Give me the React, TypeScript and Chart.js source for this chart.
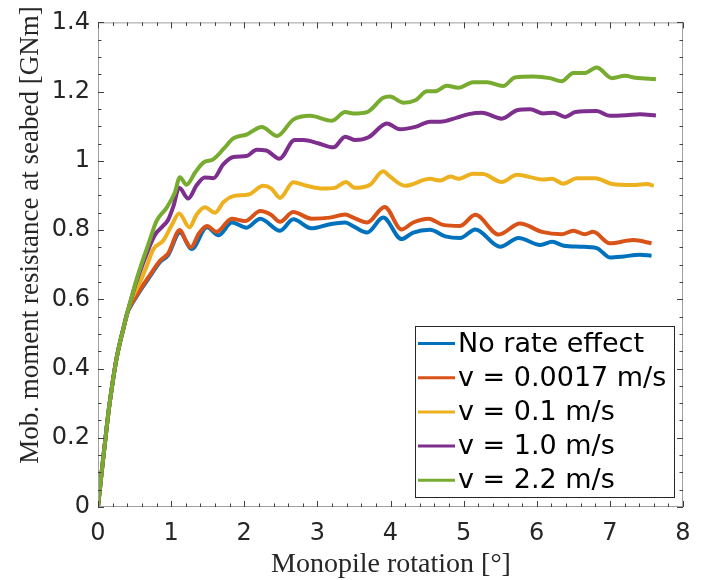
import React, { useEffect, useRef } from "react";
import { Chart, registerables } from "chart.js";

Chart.register(...registerables);

// ---- axis ticks ----
const xTicks = [0, 1, 2, 3, 4, 5, 6, 7, 8];
const yTicks = [0, 0.2, 0.4, 0.6, 0.8, 1, 1.2, 1.4];
const yTickLabels = ["0", "0.2", "0.4", "0.6", "0.8", "1", "1.2", "1.4"];

// ---- series labels ----
const seriesLabels = [
  "No rate effect",
  "v = 0.0017 m/s",
  "v = 0.1 m/s",
  "v = 1.0 m/s",
  "v = 2.2 m/s",
];
const seriesColors = ["#0072BD", "#D95319", "#EDB120", "#7E2F8E", "#77AC30"];

// ---- data (rotation [deg], moment [GNm]) ----
const noRateX = [0, 0.05, 0.1, 0.15, 0.2, 0.25, 0.3, 0.35, 0.4, 0.46, 0.53, 0.6, 0.69, 0.85, 0.96, 1.12, 1.28, 1.49, 1.65, 1.83, 2.03, 2.22, 2.49, 2.67, 2.92, 3.17, 3.38, 3.5, 3.68, 3.9, 4.15, 4.31, 4.54, 4.75, 4.95, 5.16, 5.5, 5.75, 6.05, 6.21, 6.37, 6.59, 6.82, 7.0, 7.19, 7.41, 7.57];
const noRateY = [0, 0.1, 0.195, 0.285, 0.36, 0.425, 0.475, 0.518, 0.56, 0.585, 0.609, 0.632, 0.66, 0.708, 0.728, 0.793, 0.745, 0.808, 0.785, 0.822, 0.807, 0.833, 0.798, 0.831, 0.805, 0.817, 0.822, 0.81, 0.793, 0.836, 0.774, 0.793, 0.801, 0.782, 0.777, 0.802, 0.752, 0.777, 0.757, 0.766, 0.755, 0.752, 0.748, 0.721, 0.724, 0.729, 0.726];

const v0017X = [0, 0.05, 0.1, 0.15, 0.2, 0.25, 0.3, 0.35, 0.4, 0.46, 0.53, 0.6, 0.69, 0.85, 0.96, 1.12, 1.2, 1.27, 1.38, 1.49, 1.62, 1.83, 2.01, 2.22, 2.36, 2.49, 2.67, 2.92, 3.17, 3.38, 3.5, 3.68, 3.92, 4.15, 4.31, 4.52, 4.72, 4.95, 5.16, 5.48, 5.77, 6.07, 6.34, 6.5, 6.66, 6.77, 7.0, 7.32, 7.57];
const v0017Y = [0, 0.1, 0.195, 0.285, 0.36, 0.425, 0.475, 0.518, 0.56, 0.588, 0.612, 0.636, 0.664, 0.712, 0.733, 0.8, 0.77, 0.75, 0.79, 0.812, 0.795, 0.833, 0.826, 0.855, 0.845, 0.824, 0.852, 0.833, 0.836, 0.845, 0.835, 0.822, 0.867, 0.802, 0.822, 0.833, 0.815, 0.812, 0.844, 0.787, 0.819, 0.795, 0.788, 0.798, 0.788, 0.795, 0.762, 0.771, 0.762];

const v01X = [0, 0.05, 0.1, 0.15, 0.2, 0.25, 0.3, 0.35, 0.4, 0.45, 0.52, 0.6, 0.67, 0.757, 0.89, 1.01, 1.11, 1.25, 1.35, 1.46, 1.6, 1.72, 1.85, 2.06, 2.26, 2.37, 2.49, 2.67, 2.85, 3.08, 3.24, 3.39, 3.51, 3.72, 3.9, 3.99, 4.2, 4.54, 4.68, 4.82, 4.93, 5.13, 5.27, 5.52, 5.73, 5.91, 6.07, 6.21, 6.36, 6.55, 6.8, 7.03, 7.32, 7.51, 7.6];
const v01Y = [0, 0.1, 0.195, 0.285, 0.36, 0.425, 0.475, 0.518, 0.56, 0.596, 0.627, 0.662, 0.698, 0.745, 0.769, 0.815, 0.848, 0.808, 0.845, 0.866, 0.85, 0.882, 0.898, 0.903, 0.928, 0.92, 0.893, 0.938, 0.928, 0.92, 0.922, 0.939, 0.922, 0.931, 0.97, 0.955, 0.928, 0.948, 0.943, 0.955, 0.948, 0.963, 0.962, 0.939, 0.96, 0.953, 0.946, 0.948, 0.934, 0.95, 0.95, 0.933, 0.93, 0.933, 0.928];

const v10X = [0, 0.05, 0.1, 0.15, 0.2, 0.25, 0.3, 0.35, 0.4, 0.45, 0.52, 0.6, 0.7, 0.78, 0.88, 0.96, 1.03, 1.11, 1.235, 1.35, 1.46, 1.58, 1.71, 1.85, 2.03, 2.17, 2.3, 2.48, 2.69, 2.81, 3.01, 3.22, 3.38, 3.52, 3.7, 3.95, 4.13, 4.34, 4.54, 4.68, 4.91, 5.07, 5.25, 5.52, 5.73, 5.91, 6.09, 6.23, 6.39, 6.53, 6.82, 7.0, 7.23, 7.41, 7.63];
const v10Y = [0, 0.1, 0.195, 0.285, 0.36, 0.425, 0.475, 0.518, 0.56, 0.598, 0.648, 0.695, 0.75, 0.787, 0.81, 0.83, 0.868, 0.922, 0.891, 0.93, 0.952, 0.95, 0.989, 1.011, 1.014, 1.032, 1.03, 1.006, 1.06, 1.06, 1.051, 1.039, 1.07, 1.06, 1.068, 1.108, 1.091, 1.098, 1.113, 1.113, 1.125, 1.135, 1.139, 1.122, 1.146, 1.149, 1.137, 1.139, 1.127, 1.141, 1.144, 1.13, 1.132, 1.135, 1.131];

const v22X = [0, 0.05, 0.1, 0.15, 0.2, 0.25, 0.3, 0.35, 0.4, 0.45, 0.52, 0.6, 0.69, 0.8, 0.94, 1.05, 1.12, 1.21, 1.33, 1.44, 1.58, 1.72, 1.85, 2.03, 2.24, 2.45, 2.67, 2.9, 3.2, 3.38, 3.49, 3.68, 3.9, 3.99, 4.18, 4.34, 4.5, 4.61, 4.77, 4.93, 5.13, 5.32, 5.54, 5.7, 5.96, 6.18, 6.34, 6.5, 6.66, 6.82, 7.03, 7.21, 7.35, 7.63];
const v22Y = [0, 0.1, 0.195, 0.285, 0.36, 0.425, 0.475, 0.518, 0.56, 0.599, 0.652, 0.705, 0.76, 0.826, 0.865, 0.908, 0.953, 0.931, 0.967, 0.995, 1.005, 1.035, 1.065, 1.076, 1.098, 1.072, 1.119, 1.13, 1.116, 1.141, 1.137, 1.141, 1.182, 1.186, 1.168, 1.175, 1.201, 1.201, 1.217, 1.211, 1.227, 1.227, 1.216, 1.241, 1.244, 1.239, 1.23, 1.254, 1.254, 1.27, 1.239, 1.246, 1.24, 1.236];

const seriesX = [noRateX, v0017X, v01X, v10X, v22X];
const seriesY = [noRateY, v0017Y, v01Y, v10Y, v22Y];

const xTitle = "Monopile rotation [°]";
const yTitle = "Mob. moment resistance at seabed [GNm]";

const toPoints = (xs: number[], ys: number[]) => {
  const n = Math.min(xs.length, ys.length);
  const pts: { x: number; y: number }[] = [];
  for (let i = 0; i < n; i++) pts.push({ x: xs[i], y: ys[i] });
  return pts;
};

const decorPlugin = {
  id: "decor",
  afterDatasetsDraw(chart: any) {
    const { ctx, chartArea } = chart;
    const { left, right, top, bottom } = chartArea;
    const xs = chart.scales.x;
    const ys = chart.scales.y;
    ctx.save();
    // frame
    ctx.strokeStyle = "#a0a0a0";
    ctx.lineWidth = 1;
    ctx.strokeRect(left + 0.5, top + 0.5, right - left - 1, bottom - top - 1);
    // ticks
    ctx.strokeStyle = "#404040";
    ctx.beginPath();
    for (let i = 0; i <= 40; i++) {
      const v = i / 5;
      const p = Math.round(xs.getPixelForValue(v)) + 0.5;
      const len = i % 5 === 0 ? 6 : 3.5;
      ctx.moveTo(p, bottom);
      ctx.lineTo(p, bottom - len);
      ctx.moveTo(p, top);
      ctx.lineTo(p, top + len);
    }
    for (let i = 0; i <= 28; i++) {
      const v = i * 0.05;
      const p = Math.round(ys.getPixelForValue(v)) + 0.5;
      const len = i % 4 === 0 ? 6 : 3.5;
      ctx.moveTo(left, p);
      ctx.lineTo(left + len, p);
      ctx.moveTo(right, p);
      ctx.lineTo(right - len, p);
    }
    ctx.stroke();

    // legend
    const lx = 415.5, ly = 326.5, lw = 259, lh = 171;
    ctx.fillStyle = "#ffffff";
    ctx.fillRect(lx, ly, lw, lh);
    ctx.strokeStyle = "#262626";
    ctx.lineWidth = 1;
    ctx.strokeRect(lx, ly, lw, lh);
    ctx.font = "27px 'DejaVu Sans'";
    ctx.textBaseline = "middle";
    ctx.textAlign = "left";
    for (let i = 0; i < seriesLabels.length; i++) {
      const cy = 343.5 + i * 34.2;
      ctx.strokeStyle = seriesColors[i];
      ctx.lineWidth = 3;
      ctx.beginPath();
      ctx.moveTo(418, cy);
      ctx.lineTo(455, cy);
      ctx.stroke();
      ctx.fillStyle = "#000000";
      ctx.fillText(seriesLabels[i], 458, cy + 1);
    }
    ctx.restore();
  },
  afterDraw(chart: any) {
    const { ctx } = chart;
    ctx.save();
    ctx.fillStyle = "#262626";
    ctx.textAlign = "center";
    ctx.textBaseline = "alphabetic";
    ctx.font = "28px 'Liberation Serif'";
    ctx.fillText(xTitle, 391, 572);
    ctx.translate(38, 235);
    ctx.rotate(-Math.PI / 2);
    ctx.font = "27px 'Liberation Serif'";
    ctx.fillText(yTitle, 0, 0);
    ctx.restore();
  },
};

export default function App() {
  const ref = useRef<HTMLCanvasElement | null>(null);
  useEffect(() => {
    if (!ref.current) return;
    const datasets = seriesLabels.map((label, i) => ({
      label,
      data: toPoints(seriesX[i], seriesY[i]),
      borderColor: seriesColors[i],
      backgroundColor: seriesColors[i],
      borderWidth: 4,
      pointRadius: 0,
      fill: false,
      cubicInterpolationMode: "monotone" as const,
      order: seriesLabels.length - i,
    }));
    const chart = new Chart(ref.current, {
      type: "line",
      data: { datasets },
      options: {
        responsive: false,
        devicePixelRatio: 1,
        animation: false,
        parsing: false,
        layout: { padding: { top: 18, right: 27, left: 0, bottom: 0 } },
        plugins: { legend: { display: false }, tooltip: { enabled: false } },
        scales: {
          x: {
            type: "linear",
            min: 0,
            max: 8,
            grid: { display: false, drawTicks: false },
            border: { display: false },
            afterBuildTicks: (s: any) => {
              s.ticks = xTicks.map((v) => ({ value: v }));
            },
            afterFit: (s: any) => {
              s.height = 73;
            },
            ticks: {
              color: "#262626",
              font: { family: "'DejaVu Sans'", size: 24 },
              padding: 12,
              maxRotation: 0,
              callback: (v: any) => String(v),
            },
          },
          y: {
            type: "linear",
            min: 0,
            max: 1.4,
            grid: { display: false, drawTicks: false },
            border: { display: false },
            afterBuildTicks: (s: any) => {
              s.ticks = yTicks.map((v) => ({ value: v }));
            },
            afterFit: (s: any) => {
              s.width = 98;
            },
            ticks: {
              color: "#262626",
              font: { family: "'DejaVu Sans'", size: 24 },
              padding: 8,
              callback: (v: any, idx: number) => yTickLabels[idx] ?? String(v),
            },
          },
        },
      },
      plugins: [decorPlugin],
    });
    return () => chart.destroy();
  }, []);
  return (
    <div style={{ position: "fixed", left: 0, top: 0, width: 710, height: 580, background: "#fff" }}>
      <canvas ref={ref} width={710} height={580} style={{ display: "block", width: 710, height: 580 }} />
    </div>
  );
}
